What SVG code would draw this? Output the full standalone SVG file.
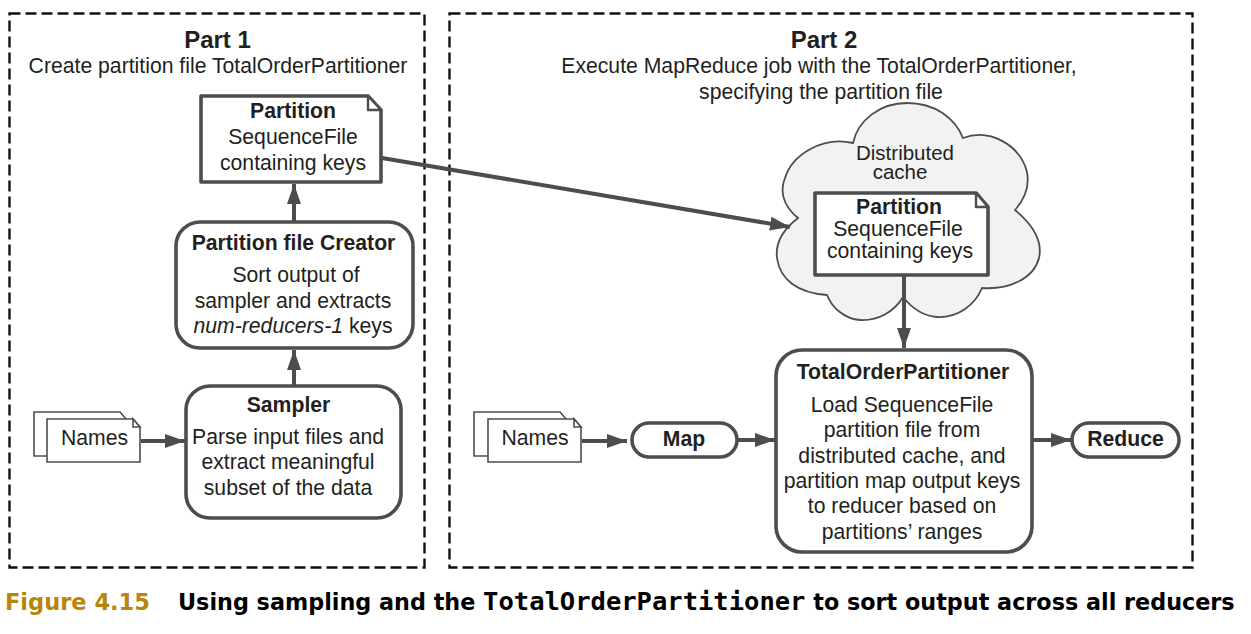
<svg xmlns="http://www.w3.org/2000/svg" width="1251" height="634" viewBox="0 0 1251 634">
<style>
text{font-family:"Liberation Sans",Arial,sans-serif;font-size:21.2px;fill:#231f20;text-anchor:middle}
.b{font-weight:bold}
.h{font-size:24px}
.frame{fill:none;stroke:#111;stroke-width:2.400;stroke-dasharray:11 5}
.box{fill:#fff;stroke:#4d4d4d;stroke-width:3.6;stroke-linejoin:round}
.thin{fill:#fff;stroke:#4d4d4d;stroke-width:1.6;stroke-linejoin:miter}
.fold{fill:#fff;stroke:#4d4d4d;stroke-width:2.4;stroke-linejoin:round}
.line{fill:none;stroke:#4d4d4d;stroke-width:4;marker-end:url(#arrow)}
.cap{font-family:"DejaVu Sans",sans-serif;font-weight:bold;text-anchor:start}
</style>
<defs>
<marker id="arrow" markerUnits="userSpaceOnUse" markerWidth="22" markerHeight="16" refX="20" refY="7" orient="auto">
<path d="M0 0L20 7L0 14Z" fill="#4d4d4d"/>
</marker>
</defs>
<rect width="1251" height="634" fill="#fff"/>
<g id="part1">
<rect class="frame" x="9.500" y="13.500" width="415" height="554"/>
<text class="b h" x="217.500" y="47.500">Part 1</text>
<text x="218" y="72.500">Create partition file TotalOrderPartitioner</text>
</g>
<g id="part2">
<rect class="frame" x="449.500" y="13.500" width="743" height="554"/>
<text class="b h" x="824" y="47.500">Part 2</text>
<text x="819" y="72.500">Execute MapReduce job with the TotalOrderPartitioner,</text>
<text x="821" y="98.500">specifying the partition file</text>
</g>
<g id="cloud">
<path d="M798 218C782 205 780 190 785 178C792 155 822 136 853 143C858 120 880 103 907 103C935 103 955 118 963 138C990 128 1020 145 1027 172C1030 188 1024 200 1015 210C1032 224 1043 240 1039 258C1034 278 1010 290 982 288C975 305 958 318 937 317C922 316 911 307 903 297C894 312 878 321 860 320C845 319 832 308 827 295C798 293 780 280 777 258C775 242 785 228 798 218Z" fill="#f2f2f2" stroke="#4d4d4d" stroke-width="1.800"/>
<text style="font-size:20.500px"><tspan x="905" y="160">Distributed</tspan><tspan x="900" y="178.500">cache</tspan></text>
</g>
<g id="partition-cached">
<path class="box" d="M815 193H976L988 207V275H815Z"/>
<path class="fold" d="M976 193V207H988Z"/>
<text class="b" x="899" y="213.500">Partition</text>
<text x="898" y="236">SequenceFile</text>
<text x="900" y="257.500">containing keys</text>
</g>
<g id="partition-file">
<path class="box" d="M201 96H368L381 110V182H201Z"/>
<path class="fold" d="M368 96V110H381Z"/>
<text class="b" x="293" y="118">Partition</text>
<text x="293" y="144">SequenceFile</text>
<text x="293" y="170">containing keys</text>
</g>
<g id="creator">
<rect class="box" x="176" y="222" width="237" height="126" rx="24"/>
<text class="b" x="293.500" y="249.500">Partition file Creator</text>
<text x="296" y="281.500">Sort output of</text>
<text x="293" y="307.500">sampler and extracts</text>
<text x="293" y="333"><tspan font-style="italic">num-reducers-1</tspan> keys</text>
</g>
<g id="sampler">
<rect class="box" x="186" y="386" width="215" height="132" rx="24"/>
<text class="b" x="288.500" y="411.500">Sampler</text>
<text x="288" y="443.500">Parse input files and</text>
<text x="288" y="469">extract meaningful</text>
<text x="288" y="495">subset of the data</text>
</g>
<g id="names-1">
<path class="thin" d="M34 412H120L127 420V456H34Z"/>
<path class="thin" d="M47 419H133L140 427V462H47Z"/>
<path class="thin" d="M133 419V427H140Z"/>
<text x="94.500" y="444.500">Names</text>
</g>
<g id="names-2">
<path class="thin" d="M474 412H560L567 420V456H474Z"/>
<path class="thin" d="M488 419H574L581 427V462H488Z"/>
<path class="thin" d="M574 419V427H581Z"/>
<text x="535" y="444.500">Names</text>
</g>
<g id="map">
<rect class="box" x="632" y="423" width="105" height="34" rx="17"/>
<text class="b" x="684" y="445.500">Map</text>
</g>
<g id="top">
<rect class="box" x="776" y="350" width="256" height="202" rx="26"/>
<text class="b" x="903" y="379">TotalOrderPartitioner</text>
<text x="902" y="411.500">Load SequenceFile</text>
<text x="902" y="437">partition file from</text>
<text x="902" y="463">distributed cache, and</text>
<text x="902" y="488">partition map output keys</text>
<text x="902" y="513">to reducer based on</text>
<text x="902" y="539">partitions’ ranges</text>
</g>
<g id="reduce">
<rect class="box" x="1072" y="423" width="107" height="34" rx="17"/>
<text class="b" x="1125.500" y="445.500">Reduce</text>
</g>
<g id="connectors">
<path class="line" d="M294 222V184"/>
<path class="line" d="M294 386V350"/>
<path class="line" d="M141 441H185"/>
<path class="line" d="M382 158L790 227"/>
<path class="line" d="M904 276V348"/>
<path class="line" d="M582 441H627"/>
<path class="line" d="M738 440H775"/>
<path class="line" d="M1033 440H1071"/>
</g>
<g id="caption">
<text class="cap" x="5" y="610" style="font-size:22.500px;fill:#b8860b">Figure 4.15</text>
<text class="cap" x="178" y="610" style="font-size:22.300px;fill:#000">Using sampling and the <tspan style="font-family:'DejaVu Sans Mono',monospace;font-size:25.500px">TotalOrderPartitioner</tspan> to sort output across all reducers</text>
</g>
</svg>
